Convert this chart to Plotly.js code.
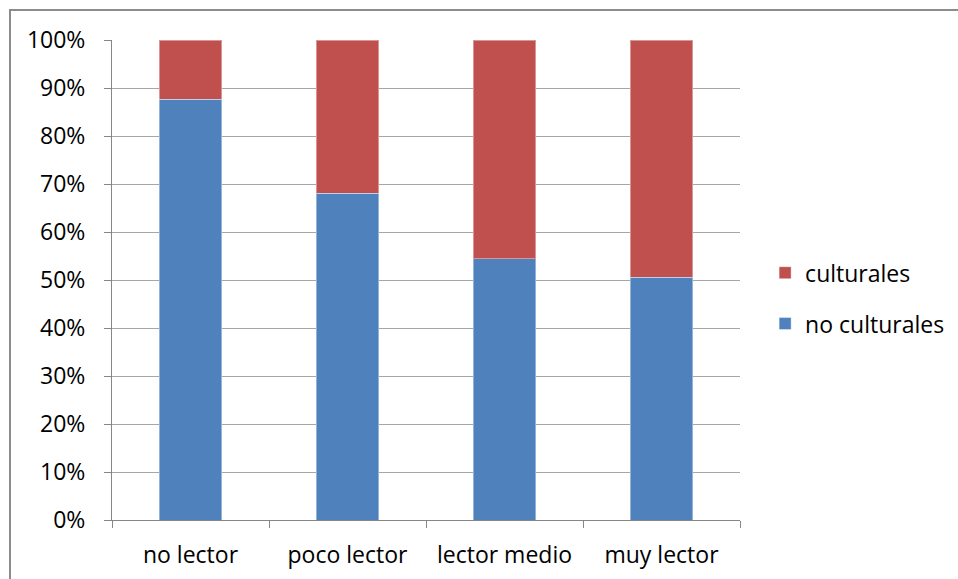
<!DOCTYPE html>
<html>
<head>
<meta charset="utf-8">
<script src="https://cdn.plot.ly/plotly-3.0.1.min.js"></script>
<style>html,body{margin:0;padding:0;background:#fff;}#chart{width:958px;height:579px;}</style>
</head>
<body>
<div id="chart"></div>
<script>
const categories = ["no lector", "poco lector", "lector medio", "muy lector"];
const noCulturales = [0.877, 0.681, 0.544, 0.506];
const culturales = [0.123, 0.319, 0.456, 0.494];
const yTickVals = [0, 0.1, 0.2, 0.3, 0.4, 0.5, 0.6, 0.7, 0.8, 0.9, 1.0];

const font = {family: "Open Sans, sans-serif", size: 23, color: "#000"};

const traces = [
  {type: "bar", name: "no culturales", x: categories, y: noCulturales,
   marker: {color: "#4F81BD", line: {color: "rgba(255,255,255,0.4)", width: 1}},
   legendgroup: "a", legendrank: 2, hoverinfo: "skip"},
  {type: "bar", name: "culturales", x: categories, y: culturales,
   marker: {color: "#C0504D", line: {color: "rgba(255,255,255,0.4)", width: 1}},
   legendgroup: "b", legendrank: 1, hoverinfo: "skip"}
];

const layout = {
  width: 958, height: 579,
  margin: {l: 112, r: 218, t: 40, b: 59, autoexpand: false},
  paper_bgcolor: "#fff", plot_bgcolor: "#fff",
  barmode: "stack", bargap: 0.605,
  font: font,
  showlegend: true,
  legend: {x: 1.04, xanchor: "left", y: 0.462, yanchor: "middle",
           traceorder: "grouped", tracegroupgap: 18, font: font,
           bgcolor: "rgba(0,0,0,0)"},
  xaxis: {showline: true, linecolor: "#868686", linewidth: 1,
          ticks: "outside", tickson: "boundaries", ticklen: 7, tickcolor: "#868686",
          showgrid: false, tickfont: font, ticklabelstandoff: 14, fixedrange: true},
  yaxis: {range: [0, 1], tickvals: yTickVals, tickformat: ".0%",
          showline: true, linecolor: "#868686", linewidth: 1,
          ticks: "outside", ticklen: 7, tickcolor: "#868686",
          showgrid: true, gridcolor: "#A6A6A6", gridwidth: 1,
          zeroline: false, tickfont: font, ticklabelstandoff: 14, fixedrange: true},
  shapes: [{type: "rect", xref: "paper", yref: "paper",
            x0: (10 - 112) / 628, x1: 1.6, y0: -0.3, y1: (520 - 10) / 480,
            line: {color: "#8C8C8C", width: 2}, layer: "below"}]
};

Plotly.newPlot("chart", traces, layout, {displayModeBar: false, staticPlot: true});
</script>
</body>
</html>
